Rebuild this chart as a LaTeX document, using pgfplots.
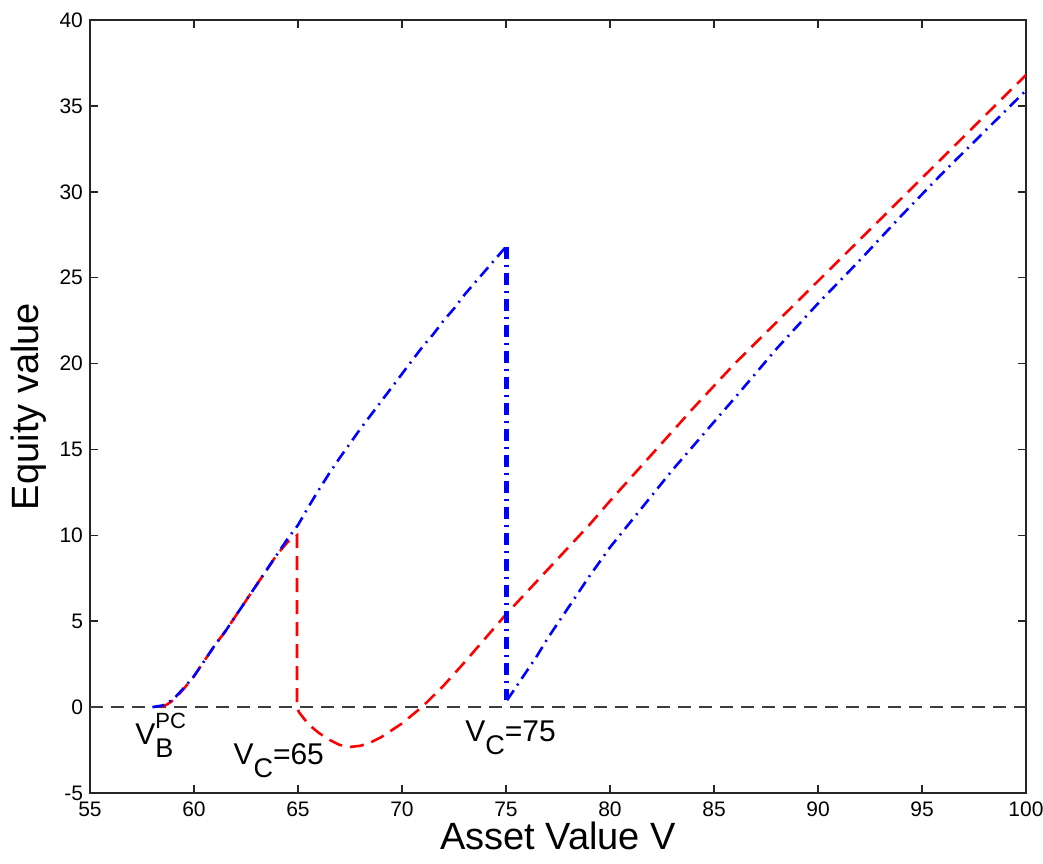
\documentclass[border=0pt]{standalone}
\usepackage{fontspec}
\setmainfont{Liberation Sans}
\usepackage{pgfplots}
\pgfplotsset{compat=1.18}

\definecolor{zeroline}{RGB}{60,60,60}
% subscript / superscript set as plain text, as in the reference
\newcommand{\sub}[1]{\raisebox{-6.5pt}{\fontsize{13.5}{15}\selectfont #1}}
\newcommand{\sups}[1]{\raisebox{8pt}{\fontsize{11}{13}\selectfont #1}}

\begin{document}
\begin{tikzpicture}
  \begin{axis}[
    scale only axis,
    width=468pt,
    height=386.5pt,
    % x axis
    xmin=55, xmax=100,
    xtick={55,60,...,100},
    xlabel={Asset Value V},
    xlabel style={font=\fontsize{19}{22}\selectfont, anchor=center,
      at={(axis description cs:0.5,-0.056)}},
    % y axis
    ymin=-5, ymax=40,
    ytick={-5,0,...,40},
    ylabel={Equity value},
    ylabel style={font=\fontsize{19}{22}\selectfont, anchor=center,
      at={(axis description cs:-0.066,0.5)}},
    % look
    axis line style={line width=0.8pt, black!85},
    tick align=inside,
    major tick length=4pt,
    tick style={line width=0.8pt, black!85},
    every tick label/.append style={font=\fontsize{10.5}{12}\selectfont},
    /pgf/number format/assume math mode=true,
    xticklabel style={yshift=-1pt},
    clip=true,
  ]

    % zero line
    \addplot[zeroline, line width=1pt, dash pattern=on 6.5pt off 4pt] coordinates {
      (55,0) (100,0)
    };

    % red, dashed
    \addplot[red, line width=1.3pt, dash pattern=on 7pt off 4pt] coordinates {
      (58.4,0) (58.7,0.15) (59,0.4) (59.5,1.05) (60,1.8) (60.5,2.7) (61,3.6)
      (61.5,4.4) (62,5.3) (62.5,6.2) (63,7.1) (63.5,8.0) (64,8.9) (64.5,9.6)
      (64.95,10.0) (64.95,0) (65.05,-0.3) (65.5,-1.0) (66,-1.5) (66.5,-1.9)
      (67,-2.2) (67.5,-2.32) (68,-2.25) (68.5,-2.05) (69,-1.75) (69.5,-1.35)
      (70,-0.95) (70.5,-0.45) (71,0.05) (72,1.25) (73,2.6) (74,4.0) (75,5.4)
      (76,6.7) (77,8.0) (78,9.3) (79,10.6) (80,12.0) (82,14.7) (84,17.4)
      (86,20.0) (88,22.4) (90,24.8) (92,27.2) (94,29.6) (96,32.0) (98,34.4)
      (100,36.8)
    };

    % blue, dash-dot
    \addplot[blue, line width=1.3pt, dash pattern=on 6pt off 3pt on 1pt off 3pt] coordinates {
      (58.0,0) (58.5,0.1) (59,0.45) (59.5,1.1) (60,1.8) (60.5,2.7) (61,3.6)
      (61.5,4.4) (62,5.3) (62.5,6.2) (63,7.1) (63.5,8.0) (64,8.9) (64.5,9.8)
      (65,10.6) (65.5,11.65) (66,12.65) (66.5,13.6) (67,14.5) (67.5,15.35)
      (68,16.2) (68.5,17.0) (69,17.8) (69.5,18.6) (70,19.4) (70.5,20.2)
      (71,21.0) (71.5,21.7) (72,22.5) (72.5,23.2) (73,24.0) (73.5,24.7)
      (74,25.4) (74.5,26.1) (75,26.8)
    };
    \addplot[blue, line width=2.4pt, dash pattern=on 6pt off 3pt on 1pt off 3pt] coordinates {
      (75.02,26.8) (75.02,0.4)
    };
    \addplot[blue, line width=1.3pt, dash pattern=on 6pt off 3pt on 1pt off 3pt] coordinates {
      (75.05,0.4) (75.5,1.2) (76,2.1) (76.5,3.0) (77,4.0) (78,5.8) (79,7.6)
      (80,9.3) (81,10.8) (82,12.3) (83,13.8) (84,15.2) (85,16.6) (86,18.0)
      (88,20.85) (90,23.5) (92,26.0) (94,28.6) (96,31.1) (98,33.5) (100,35.9)
    };

    % annotations
    \node[anchor=base west, inner sep=0pt, font=\fontsize{15}{18}\selectfont]
      at (axis cs:57.16,-2.15) {V\rlap{\sub{B}}\sups{PC}};
    \node[anchor=base west, inner sep=0pt, font=\fontsize{15}{18}\selectfont]
      at (axis cs:61.88,-3.32) {V\sub{C}=65};
    \node[anchor=base west, inner sep=0pt, font=\fontsize{15}{18}\selectfont]
      at (axis cs:73.03,-1.98) {V\sub{C}=75};
  \end{axis}
  \pgfresetboundingbox
  \useasboundingbox ([shift={(-45pt,-35pt)}]current axis.south west)
    rectangle ([shift={(8.5pt,10pt)}]current axis.north east);
\end{tikzpicture}
\end{document}
